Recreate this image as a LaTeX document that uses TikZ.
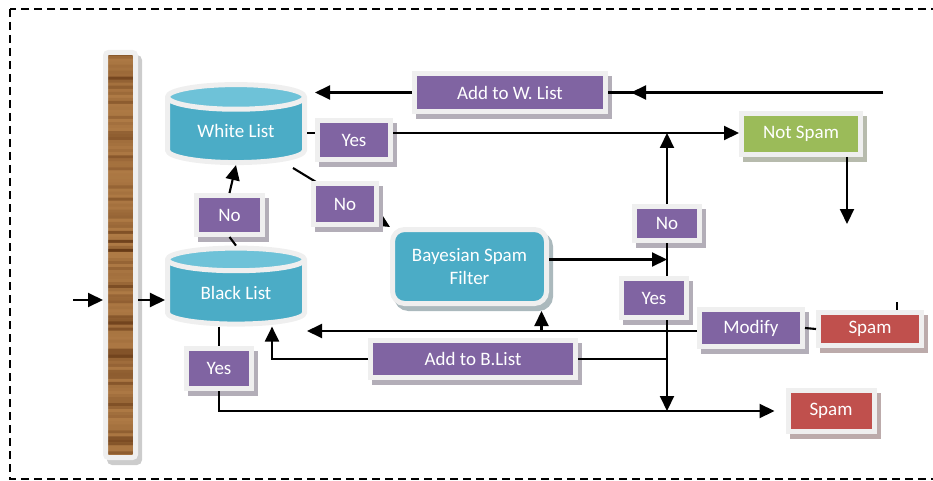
\documentclass[tikz,border=0pt]{standalone}
\usepackage{fontspec}
\setmainfont{Carlito}
\usetikzlibrary{arrows.meta,positioning,shapes.geometric,shadows,backgrounds,calc}
\definecolor{fpurple}{HTML}{8064A2}
\definecolor{fteal}{HTML}{4BACC6}
\definecolor{ftealtop}{HTML}{6EC2D8}
\definecolor{fgreen}{HTML}{9BBB59}
\definecolor{fred}{HTML}{C0504D}
\definecolor{fframe}{HTML}{EFEFEF}
\definecolor{wooddark}{HTML}{5A2E0E}
\definecolor{woodlight}{HTML}{AE7A45}
\tikzset{
  box/.style={draw=fframe, line width=5pt, fill=#1, text=white, inner sep=0pt,
              font=\fontsize{19}{23}\selectfont,
              drop shadow={shadow xshift=4pt, shadow yshift=-5pt, opacity=1,
                           fill=#1!25!gray!60!white, draw=#1!25!gray!60!white}},
  dbase/.style={cylinder, shape border rotate=90, aspect=0.32,
                draw=fframe, line width=5pt, text=white, inner sep=0pt,
                font=\fontsize{19}{23}\selectfont,
                cylinder uses custom fill, cylinder body fill=fteal,
                cylinder end fill=ftealtop,
                minimum width=137pt},
  arr/.style={line width=2.1pt, -{Triangle[length=15pt,width=14pt]}},
  wire/.style={line width=2.1pt},
}

\begin{document}
\begin{tikzpicture}[x=1pt, y=-1pt]
  \useasboundingbox (0,0) rectangle (933,481);
  \clip (0,0) rectangle (933,481);
  % outer frame
  \draw[line width=2pt, dash pattern=on 8pt off 5pt] (10,9) rectangle (960,479);

  % wooden bar
  \node[draw=fframe, line width=5pt, fill=woodlight, minimum width=30pt, minimum height=405pt,
        inner sep=0pt, rounded corners=3pt,
        drop shadow={shadow xshift=4pt, shadow yshift=-5pt, opacity=1, fill=gray!40, draw=gray!40},
        path picture={
          \pgfmathsetseed{11}
          \foreach \k in {0,...,133}{
            \pgfmathsetmacro{\sh}{int(rnd*rnd*90)}
            \fill[wooddark!\sh!woodlight]
              ($(path picture bounding box.north west)!\k/134!(path picture bounding box.south west)$)
              rectangle ++(40pt,-3.3pt);
          }
        }] (bar) at (120.5,255) {};

  % lists and filter
  \node[dbase, minimum height=78pt] (wl) at (236,131) {White List};
  \node[dbase, minimum height=76pt] (bl) at (236,293) {Black List};
  \node[box=fteal, rounded corners=12pt, minimum width=154pt, minimum height=74pt,
        align=center] (bsf) at (469.5,266.5) {Bayesian Spam\\Filter};

  % decisions and actions
  \node[box=fpurple, minimum width=66pt, minimum height=39pt] (no1) at (229.5,215) {No};
  \node[box=fpurple, minimum width=73pt, minimum height=39pt] (yes1) at (354,140) {Yes};
  \node[box=fpurple, minimum width=63pt, minimum height=41pt] (no2) at (345,204) {No};
  \node[box=fpurple, minimum width=65pt, minimum height=40pt] (yes2) at (219,368.5) {Yes};
  \node[box=fpurple, minimum width=191pt, minimum height=38pt] (addW) at (510,92.5) {Add to W. List};
  \node[box=fpurple, minimum width=205pt, minimum height=37pt] (addB) at (473,359) {Add to B.List};
  \node[box=fpurple, minimum width=65pt, minimum height=34pt] (no3) at (667,223.5) {No};
  \node[box=fpurple, minimum width=65pt, minimum height=39pt] (yes3) at (654,298) {Yes};
  \node[box=fpurple, minimum width=103pt, minimum height=37pt] (modify) at (751,328) {Modify};

  % results
  \node[box=fgreen, minimum width=119pt, minimum height=41pt] (notspam) at (801,134) {Not Spam};
  \node[box=fred, minimum width=103pt, minimum height=33pt] (spam1) at (870,329) {Spam};
  \node[box=fred, minimum width=86pt, minimum height=41pt] (spam2) at (831,411) {Spam};

  % helper points
  \coordinate (in) at (73,300);
  \coordinate (yline) at (0,133);
  \coordinate (win) at (883,92.5);
  \coordinate (out) at (847,224);
  \coordinate (stub) at (897,302);
  \coordinate (diag) at (293,168);

  % connectors
  \draw[arr] (in) -- (bar.west |- in);
  \draw[arr] (bar.east |- in) -- (bl.west |- in);
  \draw[wire] (bl.north) -- (no1.south);
  \draw[arr] (no1.north) -- (wl.south);
  \draw[wire] (wl.east |- yline) -- (yes1.west |- yline);
  \draw[arr] (yes1.east |- yline) -- (notspam.west |- yline);
  \begin{pgfonlayer}{background}
    \draw[arr] (diag) -- (bsf.north west);
  \end{pgfonlayer}
  \draw[wire] (win) -- (addW.east);
  \draw[arr] (win) -- ($(addW.east)+(23,0)$);
  \draw[arr] (addW.west) -- ($(addW.west -| wl.east)+(8,0)$);
  \draw[arr] (out |- notspam.south) -- (out);
  \draw[arr] (no3.north) -- (no3.north |- yline);
  \draw[wire] (no3.south) -- (no3.south |- yes3.north);
  \draw[arr] ([yshift=7pt]bsf.east) -- ([yshift=7pt]bsf.east -| no3);
  \draw[arr] (no3 |- yes3.south) -- (no3 |- spam2.west);
  \draw[wire] (yes2.north |- bl.south) -- (yes2.north);
  \draw[arr] (yes2.south) |- ($(spam2.west)+(-11,0)$);
  \draw[arr] ([yshift=-3pt]modify.west) -- ([yshift=-3pt]modify.west -| bl.east);
  \draw[arr] ($(bsf.south |- modify.west)+(72,3)$) -- ($(bsf.south)+(72,5)$);
  \draw[wire] (modify.east) -- (spam1.west);
  \draw[wire] (stub) -- (stub |- spam1.north);
  \draw[wire] (no3 |- addB.east) -- (addB.east);
  \draw[arr] (addB.west) -| ($(bl.south)+(36,0)$);
\end{tikzpicture}
\end{document}
